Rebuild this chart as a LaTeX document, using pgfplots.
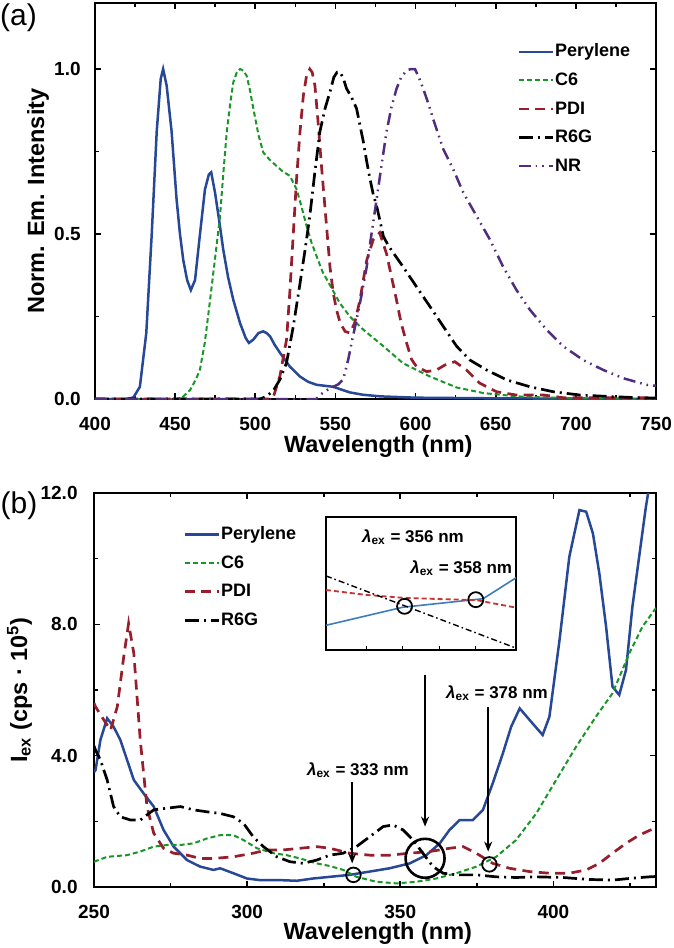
\documentclass[border=0pt]{standalone}
\usepackage{fontspec}
\setmainfont{Liberation Sans}
\usepackage{pgfplots}
\pgfplotsset{compat=1.18}
\usetikzlibrary{arrows.meta}
\definecolor{cblue}{RGB}{38,72,150}
\definecolor{cgreen}{RGB}{25,150,40}
\definecolor{cred}{RGB}{150,30,45}
\definecolor{cpurple}{RGB}{80,45,125}
\definecolor{iblue}{RGB}{60,125,190}
\definecolor{ired}{RGB}{200,50,50}
\newcommand{\lex}{{\itshape λ}\textsubscript{ex}}
\newcommand{\annfont}{\fontsize{8.5}{10}\selectfont\bfseries}
\pgfplotsset{
  base/.style={
    scale only axis,
    axis line style={line width=1.1pt},
    every tick/.style={black, line width=0.8pt},
    major tick length=3pt, minor tick length=2pt,
    tick align=inside,
    /pgf/number format/assume math mode=true,
    ticklabel style={font=\fontsize{9.5}{11}\selectfont\bfseries},
    xticklabel style={anchor=base, yshift=-15.5pt, inner sep=0pt},
    yticklabel style={anchor=east, inner sep=0pt,
      /pgf/number format/fixed, /pgf/number format/fixed zerofill, /pgf/number format/precision=1},
    label style={font=\fontsize{11.75}{14}\selectfont\bfseries, inner sep=0pt},
    xlabel style={anchor=base},
    ylabel style={anchor=base},
    legend style={draw=none, fill=none, inner sep=0pt, anchor=north west,
      font=\fontsize{9}{11}\selectfont\bfseries, row sep=5.3pt,
      nodes={inner xsep=0.5pt, inner ysep=0pt, text height=7pt, text depth=2pt}},
    legend cell align=left,
  },
  sPer/.style={cblue, line width=1.25pt},
  sC6/.style={cgreen, line width=1.0pt, dash pattern=on 2.5pt off 1.5pt},
  sPDI/.style={cred, line width=1.35pt, dash pattern=on 5pt off 3.2pt},
  sR6G/.style={black, line width=1.35pt, dash pattern=on 7pt off 2.5pt on 1pt off 2.5pt},
  sNR/.style={cpurple, line width=1.25pt, dash pattern=on 6pt off 2.5pt on 0.8pt off 2.5pt on 0.8pt off 2.5pt},
}
\begin{document}
\begin{tikzpicture}
\useasboundingbox (0,0) rectangle (337pt,-474pt);
% ---------------- panel (a)
\begin{axis}[base,
  at={(47.5pt,-199.5pt)}, anchor=south west,
  width=280.5pt, height=198pt,
  xmin=400, xmax=750, ymin=0, ymax=1.2,
  xtick={400,450,...,750}, minor xtick={425,475,...,725},
  ytick={0,0.5,1}, minor ytick={0.25,0.75},
  yticklabel style={xshift=-7pt},
  xlabel={Wavelength (nm)},
  xlabel style={at={(axis description cs:0.505,-0.135)}},
  ylabel={Norm. Em. Intensity},
  ylabel style={at={(axis description cs:-0.0909,0.5)}},
  legend style={at={(axis description cs:0.752,0.9005)}},
]
\addplot[sPer] coordinates {(400,0) (420,0) (424,0.005) (428,0.037) (432,0.2) (435.4,0.5) (438.5,0.81) (441,0.97) (442.5,1.0) (444.7,0.95) (447.8,0.81) (450.9,0.605) (453,0.5) (455.1,0.42) (457.5,0.36) (459.8,0.33) (462.4,0.36) (465.5,0.5) (468.6,0.635) (471,0.68) (472.5,0.687) (474.9,0.625) (477.5,0.54) (480,0.453) (483,0.37) (486.3,0.30) (490.5,0.23) (494,0.185) (496,0.17) (498.8,0.18) (502,0.2) (505,0.205) (507,0.2) (509.2,0.19) (512,0.165) (515.4,0.14) (521.6,0.098) (527.9,0.068) (533,0.052) (538.3,0.043) (548.7,0.037) (554,0.028) (559,0.02) (567,0.013) (578,0.008) (600,0.004) (650,0.002) (700,0.001) (750,0)};
\addlegendentry{Perylene}
\addplot[sC6] coordinates {(400,0) (450,0) (454,0.003) (459.3,0.027) (463,0.06) (465.5,0.09) (468.5,0.17) (471.8,0.30) (475,0.43) (478,0.554) (480,0.68) (482.2,0.81) (484.5,0.9) (486.3,0.96) (488.5,0.99) (490.5,1.0) (492.5,0.995) (494.6,0.98) (496.5,0.94) (498.8,0.88) (502,0.8) (505,0.747) (509,0.725) (513.3,0.706) (517,0.69) (521.6,0.676) (525.8,0.635) (529,0.58) (532,0.524) (535,0.475) (538.3,0.432) (542,0.385) (546.6,0.345) (552.8,0.29) (559,0.25) (567.4,0.21) (579.9,0.16) (592.3,0.108) (609,0.068) (625.6,0.035) (642.3,0.018) (663,0.008) (692,0.003) (750,0)};
\addlegendentry{C6}
\addplot[sPDI] coordinates {(400,0) (508,0) (511.2,0.005) (515.4,0.07) (519.5,0.18) (521.5,0.32) (523.7,0.50) (525.8,0.67) (527.9,0.81) (530,0.92) (532,0.98) (534,1.0) (535.5,0.99) (537.2,0.95) (539,0.85) (541.3,0.706) (544,0.55) (546.6,0.40) (548.7,0.32) (550.7,0.27) (553,0.23) (556,0.205) (559,0.2) (562,0.23) (565.3,0.30) (569.5,0.42) (573.6,0.483) (577.6,0.504) (581.9,0.44) (585,0.37) (588.1,0.30) (591,0.23) (594.4,0.17) (597.5,0.12) (600.6,0.098) (606.9,0.083) (613.1,0.088) (618.3,0.103) (624.5,0.113) (631.8,0.088) (640,0.048) (650.5,0.022) (663,0.012) (680,0.012) (692,0.004) (750,0.004)};
\addlegendentry{PDI}
\addplot[sR6G] coordinates {(400,0) (503,0) (507,0.008) (511.2,0.025) (515.5,0.06) (519.5,0.11) (523.7,0.22) (527.9,0.35) (531,0.45) (534,0.554) (537,0.68) (540.3,0.81) (543.5,0.88) (546.6,0.93) (549,0.975) (551,0.99) (553,0.99) (555,0.97) (557,0.94) (560,0.915) (563.2,0.88) (565.3,0.83) (567.4,0.78) (569.5,0.72) (571.6,0.666) (573.6,0.62) (575.7,0.585) (577.8,0.54) (579.9,0.493) (583,0.465) (586.1,0.443) (592.3,0.40) (600.6,0.34) (609,0.28) (617.3,0.22) (625.6,0.16) (633.9,0.118) (644.3,0.088) (656.8,0.058) (671.4,0.037) (685.9,0.022) (702.5,0.012) (723.3,0.007) (744,0.003) (750,0.003)};
\addlegendentry{R6G}
\addplot[sNR] coordinates {(400,0) (538,0) (540.3,0.012) (544,0.025) (548.7,0.037) (552,0.045) (554.9,0.06) (558,0.12) (560.5,0.18) (563.2,0.24) (566.5,0.32) (569.5,0.40) (572.5,0.50) (575.7,0.605) (578.8,0.71) (581.9,0.81) (585,0.885) (588.1,0.94) (591,0.975) (594.4,0.995) (597,1.0) (599.6,1.0) (602,0.975) (604.8,0.94) (608,0.895) (611,0.848) (617.3,0.757) (623.5,0.696) (629.8,0.625) (638.1,0.554) (646.4,0.483) (654.7,0.40) (663,0.33) (671.4,0.27) (681.7,0.21) (692.1,0.16) (704.6,0.118) (717.1,0.088) (729.5,0.063) (744.1,0.043) (750,0.04)};
\addlegendentry{NR}
\end{axis}
% ---------------- panel (b)
\begin{axis}[base,
  at={(47pt,-443.5pt)}, anchor=south west,
  width=281pt, height=197pt,
  xmin=250, xmax=433.5, ymin=0, ymax=12,
  xtick={250,300,350,400}, minor xtick={275,325,375,425},
  ytick={0,4,8,12}, minor ytick={2,6,10},
  yticklabel style={xshift=-8pt},
  xlabel={Wavelength (nm)},
  xlabel style={at={(axis description cs:0.505,-0.132)}},
  ylabel={I\textsubscript{ex} (cps · 10\textsuperscript{5})},
  ylabel style={at={(axis description cs:-0.1192,0.5)}},
  legend style={at={(axis description cs:0.158,0.9185)}},
]
\addplot[sPer] coordinates {(250,3.5) (250.5,3.56) (252.1,4.48) (254.3,5.14) (256.4,4.88) (258.6,4.48) (260.8,3.87) (263,3.26) (266.2,2.85) (269.5,2.45) (272.7,1.74) (276,1.23) (280.4,0.82) (284.7,0.62) (289,0.52) (291.2,0.57) (295.5,0.42) (299.9,0.26) (304.2,0.21) (310.7,0.21) (316.2,0.19) (321.6,0.26) (327,0.31) (333.5,0.37) (340,0.47) (346.5,0.57) (353.1,0.72) (358.5,0.97) (362.9,1.33) (366.1,1.74) (369.4,2.04) (373.7,2.04) (377,2.35) (380.2,3.16) (383.5,4.07) (386.2,4.88) (389,5.44) (392.2,5.09) (396.5,4.63) (398.7,5.19) (402,7.52) (405.2,10.06) (408.5,11.48) (410.7,11.43) (412.9,10.77) (415,9.55) (417.2,7.93) (419.3,6.1) (421.5,5.85) (423.7,6.61) (425.8,8.54) (428,10.06) (430.2,11.58) (431.3,12.2) (433.5,13.5)};
\addlegendentry{Perylene}
\addplot[sC6] coordinates {(250,0.77) (254.3,0.92) (260.8,0.97) (265.1,1.08) (269.5,1.23) (273.8,1.28) (278.2,1.28) (282.5,1.33) (286.9,1.48) (291.2,1.58) (295.5,1.58) (298.8,1.43) (303.2,1.18) (308.6,1.03) (312.9,0.97) (317.3,0.87) (322.7,0.72) (327,0.64) (331.4,0.52) (335.7,0.31) (342.2,0.16) (348.8,0.11) (355.3,0.16) (361.8,0.26) (368.3,0.42) (374.8,0.62) (381.3,0.92) (387.8,1.43) (394.4,2.24) (400.9,3.26) (407.4,4.27) (413.9,5.19) (419.3,5.9) (424.8,7.12) (429.1,7.93) (433.5,8.5)};
\addlegendentry{C6}
\addplot[sPDI] coordinates {(250,5.6) (250.5,5.49) (253.2,5.09) (255.4,4.78) (257.6,5.49) (259.7,7.01) (261.3,8.03) (263,7.12) (265.1,4.48) (267.3,2.45) (269.5,1.64) (272.7,1.18) (276,1.03) (280.4,0.97) (284.7,0.87) (289,0.87) (295.5,0.92) (302,1.03) (306.4,1.13) (311.8,1.13) (317.3,1.18) (322.7,1.23) (327,1.18) (333.5,1.03) (340,0.97) (346.5,0.97) (353.1,1.03) (359.6,1.08) (366.1,1.18) (370.5,1.23) (374.8,1.03) (380.2,0.72) (385.7,0.57) (392.2,0.47) (398.7,0.42) (405.2,0.42) (410.7,0.52) (415,0.72) (419.3,1.03) (423.7,1.33) (428,1.58) (431.8,1.74) (433.5,1.8)};
\addlegendentry{PDI}
\addplot[sR6G] coordinates {(250,4.3) (250.5,4.17) (252.1,3.87) (254.3,3.26) (256.4,2.45) (258.6,2.14) (261.9,2.04) (265.1,2.04) (269.5,2.35) (273.8,2.4) (278.2,2.45) (282.5,2.35) (286.9,2.29) (291.2,2.24) (295.5,2.14) (298.8,1.94) (302,1.53) (305.3,1.23) (309.7,0.92) (314,0.77) (318.3,0.72) (322.7,0.82) (327,0.97) (331.4,1.03) (335.7,1.23) (340,1.53) (344.4,1.84) (347.6,1.89) (350.9,1.74) (354.2,1.43) (357.4,1.03) (360.7,0.62) (364,0.42) (368.3,0.37) (374.8,0.37) (381.3,0.31) (387.8,0.29) (394.4,0.31) (403,0.29) (411.7,0.23) (419.3,0.21) (424.8,0.26) (431.3,0.31) (433.5,0.32)};
\addlegendentry{R6G}
% circles
\addplot[forget plot, only marks, mark=o, mark size=3.65pt, mark options={black, line width=0.9pt}] coordinates {(334.7,0.37) (379.1,0.69)};
\addplot[forget plot, only marks, mark=o, mark size=9.75pt, mark options={black, line width=1.3pt}] coordinates {(358.1,0.874)};
% arrows and labels
\draw[-{Stealth[length=5pt,width=4pt]}, line width=0.8pt] (axis cs:334.3,3.2) -- (axis cs:334.3,0.72);
\draw[-{Stealth[length=5pt,width=4pt]}, line width=0.8pt] (axis cs:358.1,6.46) -- (axis cs:358.1,1.84);
\draw[-{Stealth[length=5pt,width=4pt]}, line width=0.8pt] (axis cs:378.7,5.49) -- (axis cs:378.7,1.08);
\node[font=\annfont] at (axis cs:336.2,3.56) {\lex{} = 333 nm};
\node[font=\annfont] at (axis cs:381.6,5.91) {\lex{} = 378 nm};
\end{axis}
% ---------------- inset
\begin{axis}[
  at={(163pt,-325pt)}, anchor=south west, scale only axis,
  width=95pt, height=66.5pt,
  xmin=353.9, xmax=359.1, ymin=0.6, ymax=1.3,
  xtick={355,356,357,358}, xticklabels={}, ytick=\empty,
  xtick pos=left, tick align=inside, major tick length=2pt,
  every tick/.style={black, line width=0.6pt},
  axis line style={line width=0.8pt},
  axis background/.style={fill=white},
]
\addplot[iblue, line width=0.8pt] coordinates {(353.9,0.73) (356,0.825) (358.2,0.87) (359.1,0.98)};
\addplot[ired, line width=0.9pt, dash pattern=on 2.5pt off 1.5pt] coordinates {(353.9,0.916) (355,0.89) (356,0.875) (357,0.868) (358,0.863) (359.1,0.823)};
\addplot[black, line width=0.7pt, dash pattern=on 3pt off 1.5pt on 0.8pt off 1.5pt] coordinates {(353.9,0.99) (359.1,0.61)};
\addplot[only marks, mark=o, mark size=3.75pt, mark options={black, line width=0.9pt}] coordinates {(356.05,0.83) (358,0.865)};
\node[font=\annfont] at (axis cs:356.28,1.195) {\lex{} = 356 nm};
\node[font=\annfont] at (axis cs:357.6,1.03) {\lex{} = 358 nm};
\end{axis}
\node[font=\fontsize{15}{18}\selectfont, inner sep=0pt] at (9.25pt,-8.75pt) {(a)};
\node[font=\fontsize{15}{18}\selectfont, inner sep=0pt] at (9.5pt,-253pt) {(b)};
\end{tikzpicture}
\end{document}
